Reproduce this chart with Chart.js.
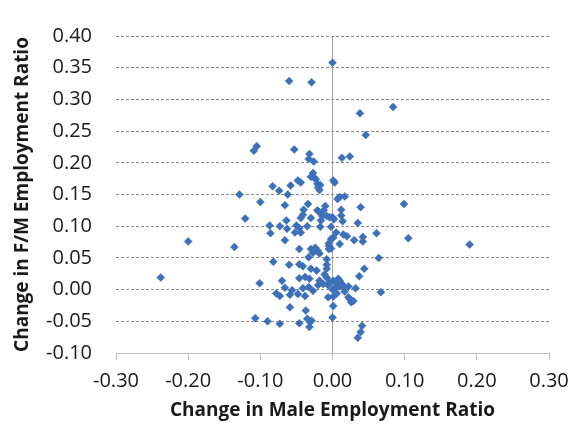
<!DOCTYPE html>
<html>
<head>
<meta charset="utf-8">
<script src="https://cdn.jsdelivr.net/npm/chart.js@4/dist/chart.umd.min.js"></script>
<style>
  html, body { margin: 0; padding: 0; background: #ffffff; }
  #c { display: block; }
</style>
</head>
<body>
<canvas id="c" width="582" height="433"></canvas>
<script>
// Change in male employment ratio (x) and change in F/M employment ratio (y)
const maleChange = [
  0.000, 0.084, 0.038, 0.046, 0.013, 0.024, 0.001, 0.003, 0.007, 0.010,
  0.017, 0.099, 0.039, 0.012, 0.012, 0.014, 0.000, 0.002, -0.002, 0.035,
  0.005, 0.015, 0.020, 0.001, 0.061, 0.105, 0.042, 0.042, 0.030, 0.010,
  -0.002, 0.190, 0.064, 0.044, 0.037, 0.008, 0.010, 0.013, 0.022, 0.032,
  0.067, 0.022, 0.025, 0.029, 0.026, 0.001, 0.001, 0.000, 0.041, 0.039,
  0.035, -0.060, -0.029, -0.105, -0.109, -0.053, -0.032, -0.033, -0.026, -0.027,
  -0.030, -0.026, -0.023, -0.021, -0.017, -0.020, -0.018, -0.048, -0.044, -0.058,
  -0.083, -0.074, -0.062, -0.129, -0.100, -0.066, -0.034, -0.040, -0.041, -0.044,
  -0.010, -0.012, -0.021, -0.018, -0.030, -0.016, -0.014, -0.008, -0.004, -0.121,
  -0.087, -0.086, -0.073, -0.063, -0.064, -0.050, -0.046, -0.044, -0.052, -0.035,
  -0.017, -0.066, -0.005, -0.002, -0.200, -0.136, -0.238, -0.046, -0.030, -0.024,
  -0.021, -0.018, -0.027, -0.005, -0.005, -0.033, -0.082, -0.060, -0.046, -0.041,
  -0.030, -0.022, -0.008, -0.008, -0.008, -0.070, -0.101, -0.046, -0.038, -0.032,
  -0.066, -0.056, -0.059, -0.048, -0.041, -0.038, -0.033, -0.078, -0.073, -0.027,
  -0.020, -0.018, -0.013, -0.008, -0.006, -0.004, -0.011, 0.001, 0.006, 0.010,
  0.015, 0.017, -0.006, 0.006, -0.059, -0.037, -0.107, -0.090, -0.073, -0.046,
  -0.035, -0.031, -0.029, -0.032, 0.000, 0.003
];
const fmChange = [
  0.358, 0.288, 0.278, 0.244, 0.208, 0.210, 0.172, 0.169, 0.143, 0.146,
  0.147, 0.135, 0.130, 0.126, 0.117, 0.108, 0.114, 0.111, 0.099, 0.105,
  0.090, 0.087, 0.084, 0.082, 0.089, 0.081, 0.083, 0.076, 0.078, 0.072,
  0.065, 0.071, 0.050, 0.033, 0.021, 0.017, 0.014, 0.009, 0.005, 0.002,
  -0.004, -0.012, -0.016, -0.018, -0.020, -0.011, -0.026, -0.044, -0.057, -0.067,
  -0.076, 0.329, 0.327, 0.226, 0.219, 0.221, 0.214, 0.206, 0.202, 0.184,
  0.178, 0.177, 0.174, 0.167, 0.165, 0.161, 0.157, 0.172, 0.169, 0.164,
  0.163, 0.156, 0.150, 0.150, 0.138, 0.133, 0.135, 0.126, 0.118, 0.113,
  0.132, 0.125, 0.125, 0.122, 0.113, 0.109, 0.116, 0.116, 0.114, 0.112,
  0.101, 0.089, 0.100, 0.096, 0.109, 0.101, 0.097, 0.090, 0.090, 0.100,
  0.099, 0.078, 0.073, 0.080, 0.076, 0.067, 0.019, 0.064, 0.064, 0.066,
  0.062, 0.057, 0.058, 0.069, 0.064, 0.051, 0.044, 0.039, 0.040, 0.037,
  0.033, 0.030, 0.048, 0.039, 0.033, 0.014, 0.010, 0.018, 0.020, 0.017,
  0.003, -0.001, -0.008, -0.007, 0.002, -0.010, 0.004, -0.006, -0.010, -0.002,
  0.007, 0.014, 0.009, 0.019, 0.007, 0.012, 0.024, 0.014, 0.009, 0.005,
  0.005, -0.003, -0.012, -0.006, -0.028, -0.033, -0.045, -0.050, -0.054, -0.053,
  -0.046, -0.051, -0.049, -0.059, 0.000, 0.002
];
const xTitle = 'Change in Male Employment Ratio';
const yTitle = 'Change in F/M Employment Ratio';
const xRange = [-0.30, 0.30, 0.10];
const yRange = [-0.10, 0.40, 0.05];

const points = maleChange.map((x, i) => ({ x: x, y: fmChange[i] }));
const FONT = '"Open Sans", "DejaVu Sans", sans-serif';

new Chart(document.getElementById('c'), {
  type: 'scatter',
  data: {
    datasets: [{
      data: points,
      pointStyle: 'rectRot',
      pointRadius: 4,
      pointHoverRadius: 4,
      backgroundColor: '#3C70B8',
      borderColor: '#3C70B8',
      borderWidth: 0.5
    }]
  },
  options: {
    responsive: false,
    animation: false,
    devicePixelRatio: 1,
    layout: { padding: { left: 0, right: 33, top: 18, bottom: 0 } },
    plugins: { legend: { display: false }, tooltip: { enabled: false } },
    scales: {
      x: {
        type: 'linear',
        min: xRange[0], max: xRange[1],
        ticks: {
          stepSize: xRange[2],
          color: '#1a1a1a',
          font: { family: FONT, size: 20 },
          padding: 9,
          callback: v => v.toFixed(2)
        },
        grid: {
          color: ctx => (ctx.tick && Math.abs(ctx.tick.value) < 1e-9) ? '#a6a6a6' : 'rgba(0,0,0,0)',
          tickColor: '#bfbfbf',
          tickLength: 7,
          lineWidth: 1
        },
        border: { display: true, color: '#bfbfbf', width: 1 },
        title: {
          display: true, text: xTitle, color: '#1a1a1a',
          font: { family: FONT, size: 19, weight: 'bold' },
          padding: { top: 0, bottom: 11 }
        },
        afterFit: s => { s.height = 80; }
      },
      y: {
        type: 'linear',
        min: yRange[0], max: yRange[1],
        ticks: {
          stepSize: yRange[2],
          color: '#1a1a1a',
          font: { family: FONT, size: 20 },
          padding: 24,
          callback: v => v.toFixed(2)
        },
        grid: {
          color: ctx => (ctx.tick && Math.abs(ctx.tick.value - yRange[0]) < 1e-9) ? 'rgba(0,0,0,0)' : '#8c8c8c',
          drawTicks: false,
          lineWidth: 1
        },
        border: { display: false, dash: [3, 2] },
        title: {
          display: true, text: yTitle, color: '#1a1a1a',
          font: { family: FONT, size: 19, weight: 'bold' },
          padding: { top: 11, bottom: 0 }
        },
        afterFit: s => { s.width = 116; }
      }
    }
  }
});
</script>
</body>
</html>
